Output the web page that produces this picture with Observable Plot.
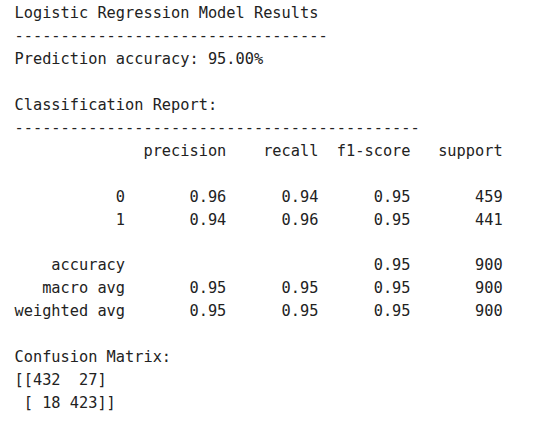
<!DOCTYPE html>
<html><head><meta charset="utf-8">
<script src="https://cdn.jsdelivr.net/npm/d3@7"></script>
<script src="https://cdn.jsdelivr.net/npm/@observablehq/plot@0.6"></script>
<style>body{margin:0;background:#fff}svg text{white-space:pre}</style>
</head><body><div id="c"></div>
<script>
const title = "Logistic Regression Model Results";
const accuracy = 95.00;
const headers = ["precision", "recall", "f1-score", "support"];
const classes = ["0", "1"];
const precision = [0.96, 0.94];
const recall = [0.94, 0.96];
const f1 = [0.95, 0.95];
const support = [459, 441];
const avgLabels = ["macro avg", "weighted avg"];
const avgValues = [[0.95, 0.95, 0.95, 900], [0.95, 0.95, 0.95, 900]];
const overallAccuracy = [0.95, 900];
const confusion = [[432, 27], [18, 423]];

const pad = (s, n) => String(s).padStart(n);
const f2 = v => v.toFixed(2);
const lines = [
  title,
  "-".repeat(34),
  `Prediction accuracy: ${accuracy.toFixed(2)}%`,
  "",
  "Classification Report:",
  "-".repeat(44),
  pad("", 14) + headers.map((h, i) => pad(h, i === 0 ? 9 : 10)).join(""),
  "",
  ...classes.map((c, i) => pad(c, 12) + pad(f2(precision[i]), 11) + pad(f2(recall[i]), 10) + pad(f2(f1[i]), 10) + pad(support[i], 10)),
  "",
  pad("accuracy", 12) + pad("", 21) + pad(f2(overallAccuracy[0]), 10) + pad(overallAccuracy[1], 10),
  ...avgLabels.map((l, i) => pad(l, 12) + pad(f2(avgValues[i][0]), 11) + pad(f2(avgValues[i][1]), 10) + pad(f2(avgValues[i][2]), 10) + pad(avgValues[i][3], 10)),
  "",
  "Confusion Matrix:",
  "[[" + confusion[0].map(v => pad(v, 3)).join(" ") + "]",
  " [" + confusion[1].map(v => pad(v, 3)).join(" ") + "]]"
];
const data = lines.map((t, i) => ({t, i}));
const chart = Plot.plot({
  width: 536, height: 426, margin: 0,
  x: {domain: [-14/9.2, 522/9.2], axis: null},
  y: {domain: [-13/22.9, 413/22.9], reverse: true, axis: null},
  marks: [
    Plot.text(data, {x: () => 0, y: "i", text: "t", textAnchor: "start",
      fontFamily: "DejaVu Sans Mono", fontSize: 15.3, fill: "#222"})
  ]
});
document.getElementById("c").append(chart);
</script></body></html>
